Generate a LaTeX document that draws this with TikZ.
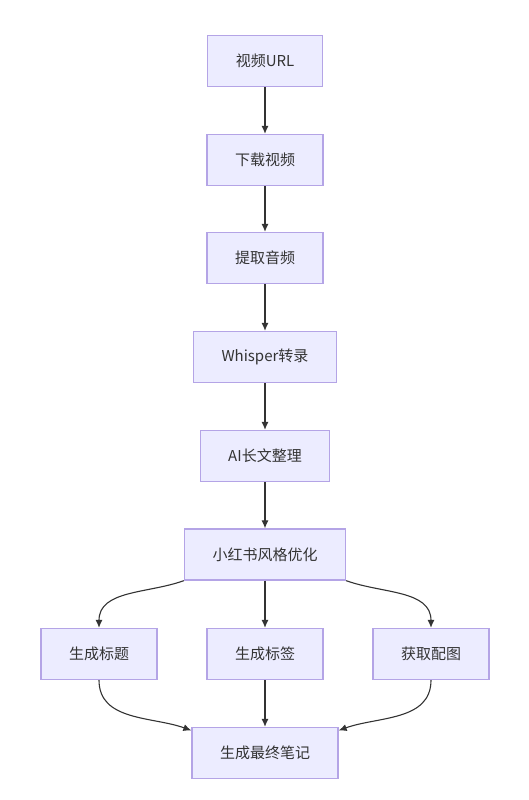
\documentclass[tikz,border=0pt]{standalone}
\usepackage{fontspec}
\setmainfont{Noto Sans CJK SC}
\usetikzlibrary{arrows.meta}
\definecolor{boxfill}{HTML}{ECECFF}
\definecolor{boxline}{HTML}{B4A4E6}
\definecolor{inkgray}{HTML}{333333}

\begin{document}
\begin{tikzpicture}[x=1pt, y=1pt,
    stepbox/.style={draw=boxline, fill=boxfill, line width=1.3pt, text=inkgray,
        font=\fontsize{15}{18}\selectfont, minimum height=51pt, inner xsep=28pt},
    flow/.style={-{Latex[length=8pt,width=7pt]}, draw=inkgray, line width=1.1pt}]

    \useasboundingbox (0,0) rectangle (529,800);

    % nodes
    \node[stepbox] at (265,739) (a) {视频URL};
    \node[stepbox] at (265,640) (b) {下载视频};
    \node[stepbox] at (265,542) (c) {提取音频};
    \node[stepbox] at (265,443) (d) {Whisper转录};
    \node[stepbox] at (265,344) (e) {AI长文整理};
    \node[stepbox] at (265,245.5) (f) {小红书风格优化};
    \node[stepbox] at (99,146) (g) {生成标题};
    \node[stepbox] at (265,146) (h) {生成标签};
    \node[stepbox] at (431,146) (i) {获取配图};
    \node[stepbox] at (265,47) (j) {生成最终笔记};

    % paths
    \draw[flow] (a) -- (b); % URL -> download
    \draw[flow] (b) -- (c); % download -> audio
    \draw[flow] (c) -- (d); % audio -> Whisper
    \draw[flow] (d) -- (e); % Whisper -> AI
    \draw[flow] (e) -- (f); % AI -> style

    \draw[flow] (f.south west) to[out=200, in=90] (g.north); % style -> title
    \draw[flow] (f) -- (h); % style -> tags
    \draw[flow] (f.south east) to[out=-20, in=90] (i.north); % style -> images

    \draw[flow] (g.south) to[out=-90, in=160] (j.163); % title -> note
    \draw[flow] (h) -- (j); % tags -> note
    \draw[flow] (i.south) to[out=-90, in=20] (j.17); % images -> note

\end{tikzpicture}
\end{document}
